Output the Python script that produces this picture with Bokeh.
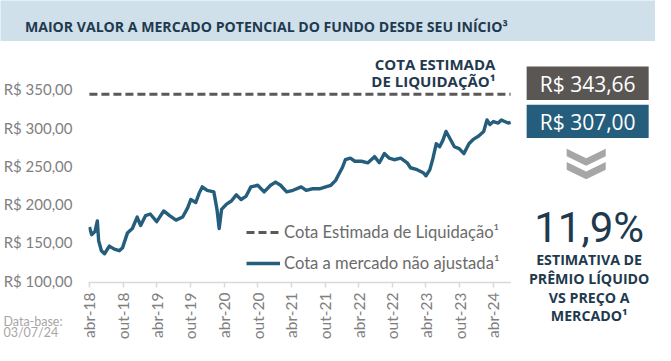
import numpy as np
import pandas as pd
from bokeh.plotting import figure
from bokeh.layouts import column, row
from bokeh.models import (FixedTicker, CustomJSTickFormatter, Label, BoxAnnotation,
                          Legend, LegendItem, Range1d, ColumnDataSource)
from bokeh.embed import file_html
from bokeh.resources import INLINE

# ---------------- data ----------------
dates = ["2018-04-01", "2018-04-13", "2018-05-01", "2018-05-14", "2018-05-21", "2018-06-05", "2018-06-22",
         "2018-07-18", "2018-08-14", "2018-09-10", "2018-09-28", "2018-10-24", "2018-11-20", "2018-12-16",
         "2019-01-04", "2019-01-31", "2019-02-25", "2019-04-01", "2019-05-09", "2019-06-10", "2019-07-15",
         "2019-08-20", "2019-09-16", "2019-10-03", "2019-10-30", "2019-11-17", "2019-12-04", "2019-12-31",
         "2020-02-05", "2020-02-22", "2020-03-05", "2020-03-18", "2020-04-14", "2020-05-10", "2020-06-06",
         "2020-07-02", "2020-07-28", "2020-08-24", "2020-09-30", "2020-11-04", "2020-12-09",
         "2021-01-05", "2021-02-01", "2021-03-06", "2021-04-10", "2021-05-24", "2021-06-20", "2021-07-25",
         "2021-08-31", "2021-10-04", "2021-11-01", "2021-11-27", "2021-12-14",
         "2022-01-02", "2022-01-19", "2022-02-15", "2022-03-11", "2022-04-16", "2022-05-21", "2022-06-26",
         "2022-07-22", "2022-08-18", "2022-09-14", "2022-10-10", "2022-11-15", "2022-12-20",
         "2023-01-07", "2023-02-12", "2023-03-17", "2023-04-01", "2023-04-22", "2023-05-09", "2023-05-27",
         "2023-06-14", "2023-07-01", "2023-07-19", "2023-08-06", "2023-09-02", "2023-09-28", "2023-10-24",
         "2023-11-20", "2023-12-16",
         "2024-01-12", "2024-02-08", "2024-02-26", "2024-03-13", "2024-04-01", "2024-04-27", "2024-05-14",
         "2024-06-01", "2024-06-20", "2024-07-03"]
cota_mercado = [170, 160, 164, 178, 152, 139, 135, 145, 141, 139, 143, 162, 168, 183,
                172, 185, 187, 177, 191, 185, 179, 183, 195, 206, 202, 214, 222.5, 218,
                216, 193, 168, 193, 200, 204, 212, 206, 210, 222.5, 224.6, 216, 224.6,
                228.75, 224.6, 216, 218, 222.5, 218, 220, 220, 222.5, 224.6, 231, 239,
                247.5, 258, 260, 256, 256, 254, 262, 254, 266, 260, 258, 260, 254,
                247.5, 245, 241, 237, 245, 260, 279, 275, 283, 295, 287, 275, 272.5, 266,
                279, 285,
                289, 295, 310, 304, 308, 306, 310, 308, 306, 307]
cota_estimada = 343.66
cota_atual = 307.00

y_ticks = [100, 150, 200, 250, 300, 350]
x_tick_dates = ["2018-04-01", "2018-10-01", "2019-04-01", "2019-10-01", "2020-04-01", "2020-10-01",
                "2021-04-01", "2021-10-01", "2022-04-01", "2022-10-01", "2023-04-01", "2023-10-01",
                "2024-04-01"]
x_tick_labels = ["abr-18", "out-18", "abr-19", "out-19", "abr-20", "out-20", "abr-21", "out-21",
                 "abr-22", "out-22", "abr-23", "out-23", "abr-24"]

title_text = "MAIOR VALOR A MERCADO POTENCIAL DO FUNDO DESDE SEU INÍCIO³"
legend_labels = ["Cota Estimada de Liquidação¹", "Cota a mercado não ajustada¹"]
premio_lines = ["ESTIMATIVA DE", "PRÊMIO LÍQUIDO", "VS PREÇO A", "MERCADO¹"]


def to_ms(d):
    return (pd.to_datetime(d).values.astype("datetime64[ms]").astype("int64")).astype(float)


xs = to_ms(dates)
tick_ms = [float(v) for v in to_ms(x_tick_dates)]

# ---------------- layout constants (canvas px) ----------------
W, H = 655, 345
REF_W, REF_H = 671, 361
KX, KY = W / REF_W, H / REF_H
TITLE_H = 41
LEFT_W = 78
MAIN_BORDER_L = 10
FRAME_W = 423
RIGHT_W = W - LEFT_W - MAIN_BORDER_L - FRAME_W
ROW_H = H - TITLE_H
TOP_B, FRAME_H = 7, 234
BOT_B = ROW_H - TOP_B - FRAME_H
FL = LEFT_W + MAIN_BORDER_L
FB = TITLE_H + TOP_B + FRAME_H
YFIG_H = TOP_B + FRAME_H + 14
BASE_FIX = 0.33  # em, baseline correction

NAVY = "#245e7c"
GRAY_BOX = "#595654"
DARK = "#1f3a4f"
BAND = "#cfe0ea"


def sx(X):
    return X * KX - FL


def sy(Y):
    return FB - Y * KY


def ref_fig(cx0, cy0, cx1, cy1, bg="white"):
    f = figure(width=int(round(cx1 - cx0)), height=int(round(cy1 - cy0)),
               x_range=Range1d(cx0 / KX, cx1 / KX), y_range=Range1d(cy1 / KY, cy0 / KY),
               output_backend="svg", toolbar_location=None, title=None,
               x_axis_location=None, y_axis_location=None, min_border=0, frame_align=False,
               outline_line_color=None, background_fill_color=bg, border_fill_color=bg)
    f.grid.visible = False
    return f


def ref_text(f, text, X, Y, size, color, font="Open Sans", style="normal", align="left", fix=BASE_FIX):
    px = float(size.replace("px", ""))
    f.add_layout(Label(x=X, y=Y - fix * px / KY, text=text, text_font=font, text_font_size=size,
                       text_font_style=style, text_color=color, text_align=align,
                       text_baseline="alphabetic"))


# ---------------- title band ----------------
title_fig = ref_fig(0, 0, W, TITLE_H, bg=BAND)
ref_text(title_fig, title_text, 25, 28.5, "14.1px", DARK, style="bold", fix=0.12)

# ---------------- main chart ----------------
y_rng = Range1d(97.4, 403.5)
p = figure(width=MAIN_BORDER_L + FRAME_W, height=ROW_H, output_backend="svg", toolbar_location=None,
           title=None, y_axis_location=None, frame_align=False,
           x_range=Range1d(float(to_ms(["2018-03-27"])[0]), float(to_ms(["2024-07-08"])[0])),
           y_range=y_rng, min_border_left=MAIN_BORDER_L, min_border_right=0,
           min_border_top=TOP_B, min_border_bottom=BOT_B,
           outline_line_color=None, background_fill_color="white", border_fill_color="white")
p.grid.visible = False

src = ColumnDataSource(dict(x=xs, y=cota_mercado))
r_est = p.line(x=[xs[0], xs[-1]], y=[cota_estimada, cota_estimada], line_color="#595959",
               line_width=3, line_dash="8 4")
r_mkt = p.line(x="x", y="y", source=src, line_color=NAVY, line_width=3.4, line_join="round")

xax = p.xaxis[0]
xax.ticker = FixedTicker(ticks=tick_ms)
xax.formatter = CustomJSTickFormatter(args=dict(tick_vals=tick_ms, tick_names=x_tick_labels), code="""
let best = 0;
for (let i = 0; i < tick_vals.length; i++) {
  if (Math.abs(tick_vals[i] - tick) < Math.abs(tick_vals[best] - tick)) best = i;
}
return tick_names[best];
""")
xax.axis_line_color = "#d9d9d9"
xax.axis_line_width = 1.5
xax.major_tick_line_color = "#d9d9d9"
xax.major_tick_line_width = 1.5
xax.major_tick_out = 5
xax.major_tick_in = 0
xax.minor_tick_line_color = None
xax.major_label_orientation = np.pi / 2
xax.major_label_standoff = 5
xax.major_label_text_font = "Lato"
xax.major_label_text_font_size = "15.5px"
xax.major_label_text_color = "#7f7f7f"

legend = Legend(items=[LegendItem(label=legend_labels[0], renderers=[r_est]),
                       LegendItem(label=legend_labels[1], renderers=[r_mkt])],
                location=(sx(252), FB - (276 * KY + 9)), orientation="vertical",
                padding=0, margin=0, spacing=11, glyph_width=34, glyph_height=18, label_height=18,
                label_standoff=4, background_fill_alpha=0, border_line_alpha=0,
                label_text_font="Lato", label_text_font_size="16.6px", label_text_color="#6b6b6b")
p.add_layout(legend)

for txt, yb in zip(["COTA ESTIMADA", "DE LIQUIDAÇÃO¹"], [72, 89.5]):
    p.add_layout(Label(x=sx(507), y=sy(yb) + BASE_FIX * 15, x_units="screen", y_units="screen",
                       text=txt, text_font="Open Sans", text_font_size="15px", text_font_style="bold",
                       text_color=DARK, text_align="right", text_baseline="alphabetic"))

# ---------------- y axis (left column) ----------------
yfig = figure(width=LEFT_W, height=YFIG_H, output_backend="svg", toolbar_location=None,
              title=None, x_axis_location=None, y_range=y_rng, x_range=Range1d(0, 1), frame_align=False,
              min_border_left=73, min_border_right=0, min_border_top=TOP_B, min_border_bottom=14,
              outline_line_color=None, background_fill_color="white", border_fill_color="white")
yfig.grid.visible = False
yax = yfig.yaxis[0]
yax.ticker = FixedTicker(ticks=y_ticks)
yax.formatter = CustomJSTickFormatter(code="return 'R$ ' + tick.toFixed(2).replace('.', ',');")
yax.axis_line_color = None
yax.major_tick_line_color = None
yax.minor_tick_line_color = None
yax.major_tick_out = 0
yax.major_tick_in = 0
yax.major_label_standoff = 1
yax.major_label_text_font = "Lato"
yax.major_label_text_font_size = "15px"
yax.major_label_text_color = "#7f7f7f"

note_fig = ref_fig(0, TITLE_H + YFIG_H, LEFT_W, H)
ref_text(note_fig, "Data-base:", 3, 340, "12.5px", "#a6a6a6", font="Lato")
ref_text(note_fig, "03/07/24", 3, 352, "12.5px", "#a6a6a6", font="Lato")

# ---------------- right panel ----------------
rx0 = LEFT_W + MAIN_BORDER_L + FRAME_W
rfig = ref_fig(rx0, TITLE_H, W, H)


def fmt_brl(v):
    return "R$ " + f"{v:.2f}".replace(".", ",")


rfig.add_layout(BoxAnnotation(left=539, right=664, top=69, bottom=104, fill_color=GRAY_BOX,
                              fill_alpha=1.0, line_color=None, level="underlay"))
rfig.add_layout(BoxAnnotation(left=539, right=664, top=109, bottom=144, fill_color=NAVY,
                              fill_alpha=1.0, line_color=None, level="underlay"))
ref_text(rfig, fmt_brl(cota_estimada), 601.5, 95, "21px", "white", align="center")
ref_text(rfig, fmt_brl(cota_atual), 601.5, 134.5, "21px", "white", align="center")

chev_x = [580, 600, 620, 620, 600, 580]
chev_y = [155, 165, 155, 163, 173, 163]
for off in (0, 14):
    rfig.patch(x=chev_x, y=[v + off for v in chev_y], fill_color="#a6a6a6", line_color=None)

premio = (cota_estimada / cota_atual - 1) * 100
ref_text(rfig, f"{premio:.1f}%".replace(".", ","), 603, 252, "42px", DARK,
         font="Roboto", align="center")
for txt, yb in zip(premio_lines, [276, 296, 315.5, 334.5]):
    ref_text(rfig, txt, 603, yb, "14.2px", DARK, style="bold", align="center")

layout = column(title_fig, row(column(yfig, note_fig), p, rfig))
open("out.html", "w").write(file_html(layout, INLINE))
